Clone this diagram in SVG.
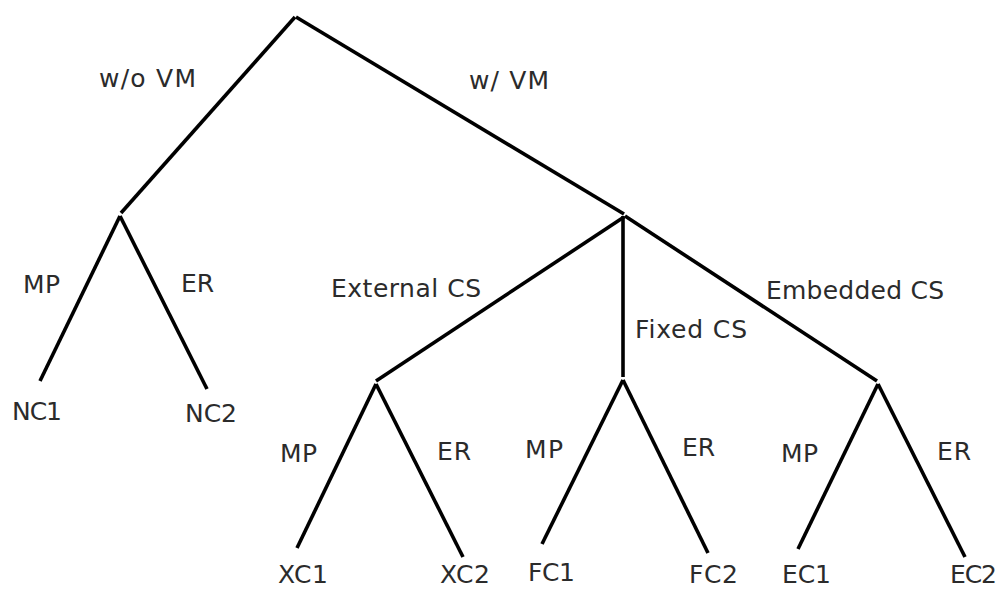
<svg xmlns="http://www.w3.org/2000/svg" width="999" height="590" viewBox="0 0 999 590">
  <style>
    .edge { stroke: #000; stroke-width: 3.6; fill: none; stroke-linecap: butt; }
    text { font-family: "DejaVu Sans", Verdana, "Liberation Sans", sans-serif; font-size: 25px; fill: #2b2b2b; }
  </style>
  <rect width="999" height="590" fill="#fff"/>

  <!-- tree branches -->
  <g id="connectors">
    <line class="edge" x1="295" y1="17" x2="121" y2="213"/>
    <line class="edge" x1="296" y1="17" x2="624" y2="214"/>
    <line class="edge" x1="120" y1="216" x2="40" y2="381"/>
    <line class="edge" x1="120" y1="216" x2="207" y2="389"/>
    <line class="edge" x1="624" y1="217" x2="376" y2="381"/>
    <line class="edge" x1="623" y1="216" x2="623" y2="377"/>
    <line class="edge" x1="625" y1="216" x2="877" y2="381"/>
    <line class="edge" x1="376" y1="384" x2="297" y2="548"/>
    <line class="edge" x1="376" y1="384" x2="463" y2="557"/>
    <line class="edge" x1="623" y1="380" x2="542" y2="544"/>
    <line class="edge" x1="623" y1="380" x2="708" y2="553"/>
    <line class="edge" x1="878" y1="384" x2="798" y2="549"/>
    <line class="edge" x1="878" y1="384" x2="965" y2="557"/>
  </g>

  <!-- branch labels -->
  <g id="edge-labels">
    <text x="99" y="87" textLength="97">w/o VM</text>
    <text x="469" y="89" textLength="80">w/ VM</text>
    <text x="23" y="293" textLength="37">MP</text>
    <text x="181" y="292" textLength="33">ER</text>
    <text x="331" y="297" textLength="150">External CS</text>
    <text x="635" y="338" textLength="112">Fixed CS</text>
    <text x="766" y="299" textLength="178">Embedded CS</text>
    <text x="280" y="462" textLength="37">MP</text>
    <text x="437" y="460" textLength="34">ER</text>
    <text x="525" y="458" textLength="38">MP</text>
    <text x="682" y="456" textLength="33">ER</text>
    <text x="781" y="462" textLength="37">MP</text>
    <text x="937" y="460" textLength="34">ER</text>
  </g>

  <!-- leaf nodes -->
  <g id="leaf-nc1"><text x="12" y="420" textLength="50">NC1</text></g>
  <g id="leaf-nc2"><text x="185" y="422" textLength="52">NC2</text></g>
  <g id="leaf-xc1"><text x="278" y="583" textLength="50">XC1</text></g>
  <g id="leaf-xc2"><text x="440" y="583" textLength="50">XC2</text></g>
  <g id="leaf-fc1"><text x="528" y="581" textLength="47">FC1</text></g>
  <g id="leaf-fc2"><text x="689" y="583" textLength="49">FC2</text></g>
  <g id="leaf-ec1"><text x="782" y="583" textLength="49">EC1</text></g>
  <g id="leaf-ec2"><text x="950" y="583" textLength="47">EC2</text></g>
</svg>
